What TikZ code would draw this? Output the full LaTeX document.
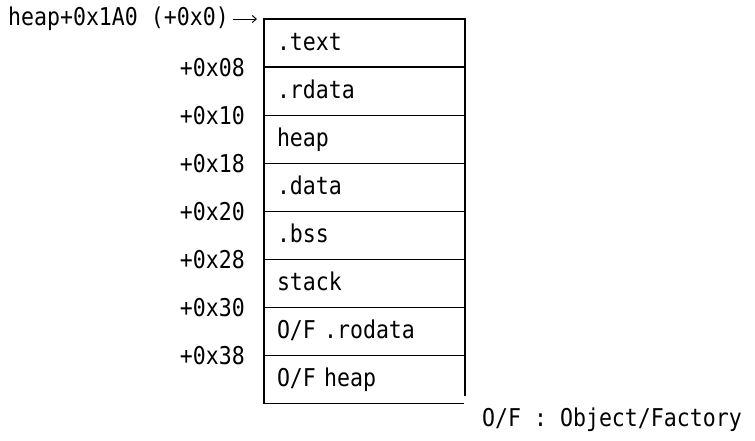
\documentclass[tikz,border=0pt]{standalone}
\usepackage{fontspec}
\setmonofont[FakeStretch=0.88]{DejaVu Sans Mono}
\usetikzlibrary{arrows.meta, positioning}

\begin{document}
\begin{tikzpicture}[x=1pt, y=-1pt, font=\ttfamily\fontsize{24.5}{28}\selectfont]
    \useasboundingbox (0,0) rectangle (755,440);
    \tikzset{
        cell/.style={rectangle, draw, line width=1.3pt, minimum width=201pt, minimum height=48.1pt,
                     text width=175pt, text height=18pt, text depth=4pt, align=left,
                     inner xsep=13pt, inner ysep=0pt, outer sep=0pt},
        offlabel/.style={inner sep=0pt},
        frame/.style={line width=1.3pt}
    }

    % Memory cells, top to bottom
    \node[cell, anchor=north west] (cell1) at (264,19) {.text};
    \foreach \txt [count=\i from 2] in {.rdata, heap, .data, .bss, stack, {O/F .rodata}} {
        \pgfmathtruncatemacro\prev{\i-1}
        \node[cell, below=0pt of cell\prev] (cell\i) {\txt};
    }
    % Last cell: right side stops short of the bottom
    \node[cell, draw=none, below=0pt of cell7] (cell8) {O/F heap};
    \draw[frame] (cell8.north west) -- (cell8.south west) -- ([xshift=-1pt]cell8.south east);
    \draw[frame] (cell8.north east) -- ([yshift=8pt]cell8.south east);

    % Offsets at the cell boundaries
    \foreach \off [count=\i] in {08,10,18,20,28,30,38} {
        \node[offlabel, left=19pt of cell\i.south west] (off\i) {+0x\off};
    }

    % Base address and arrow
    \node[offlabel, left=35pt of cell1.north west] (base) {heap+0x1A0 (+0x0)};
    \coordinate[left=7pt of cell1.north west] (basetip);
    \draw[-{Straight Barb[length=4pt, width=7pt]}, line width=1pt] ([xshift=4pt]base.east) -- (basetip);

    % Legend
    \node[offlabel, below right=4pt and 17pt of cell8.south east] (legend) {O/F : Object/Factory};
\end{tikzpicture}
\end{document}
